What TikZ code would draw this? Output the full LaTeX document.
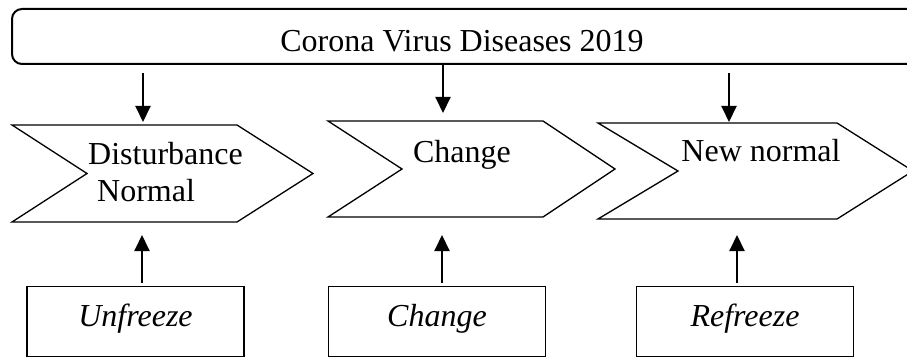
\documentclass[tikz,border=0pt]{standalone}
\usepackage{fontspec}
\setmainfont{Liberation Serif}
\usepackage{tikz}
\usetikzlibrary{positioning,calc,arrows.meta}

\begin{document}
\begin{tikzpicture}[x=1pt,y=-1pt,
        every node/.style={font=\fontsize{32}{37}\selectfont, inner sep=0pt},
        chev/.style={draw, line width=1.3pt, line join=miter},
        stagebox/.style={draw, line width=1.5pt, minimum width=217pt, minimum height=70pt,
            text height=22pt, text depth=13pt, font=\fontsize{32}{37}\selectfont\itshape},
        arr/.style={line width=2pt, -{Triangle[length=16pt,width=15pt]}}]
        \useasboundingbox (0,0) rectangle (907,358);
        \clip (0,0) rectangle (907,358);
        % top bar
        \draw[line width=2pt, rounded corners=10pt] (930,9) -- (12,9) -- (12,64) -- (930,64);
        \node[anchor=base] (covid) at (462,52) {Corona Virus Diseases 2019};
        % chevrons
        \draw[chev] (12,125) -- (237,125) -- (313,173.5) -- (237,222) -- (12,222) -- (87,173.5) -- cycle;
        \draw[chev] (328,121) -- (543,121) -- (615,169) -- (543,217) -- (328,217) -- (402,169) -- cycle;
        \draw[chev] (598,123) -- (837,123) -- (913,171) -- (837,219) -- (598,219) -- (678,171) -- cycle;
        \node[anchor=base west] (dist) at (88,165) {Disturbance};
        \node[anchor=base west] (norm) at (97,202) {Normal};
        \node[anchor=base] (chg) at (462,163) {Change};
        \node[anchor=base] (newn) at (761,162) {New normal};
        % bottom stages
        \node[stagebox] (unf) at (135.5,321.5) {Unfreeze};
        \node[stagebox] (chgb) at (437,321.5) {Change};
        \node[stagebox] (ref) at (745,321.5) {Refreeze};
        % arrows
        \coordinate (d1) at (143,73);  \coordinate (e1) at (143,122);
        \coordinate (d2) at (443,65);  \coordinate (e2) at (443,113);
        \coordinate (d3) at (729,73);  \coordinate (e3) at (729,122);
        \coordinate (u1) at (142,283); \coordinate (v1) at (142,235);
        \coordinate (u2) at (442,283); \coordinate (v2) at (442,235);
        \coordinate (u3) at (737,283); \coordinate (v3) at (737,235);
        \draw[arr] (d1) -- (e1);
        \draw[arr] (d2) -- (e2);
        \draw[arr] (d3) -- (e3);
        \draw[arr] (u1) -- (v1);
        \draw[arr] (u2) -- (v2);
        \draw[arr] (u3) -- (v3);
    \end{tikzpicture}
\end{document}
